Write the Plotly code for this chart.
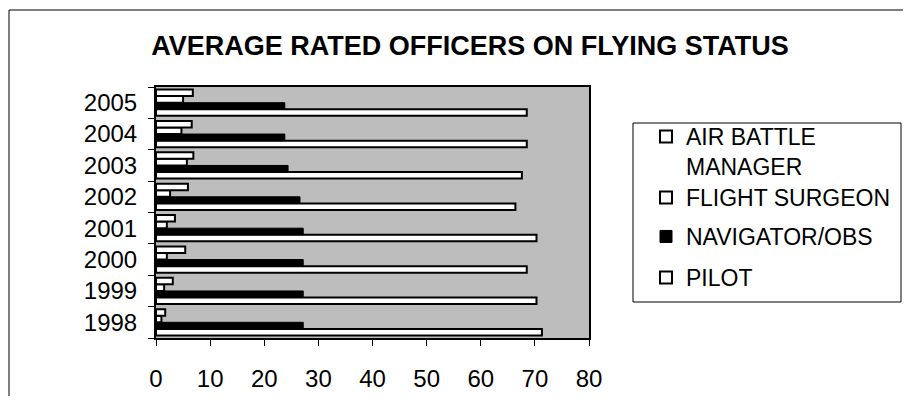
import plotly.graph_objects as go

years = ["1998", "1999", "2000", "2001", "2002", "2003", "2004", "2005"]
pilot = [71.3, 70.3, 68.5, 70.3, 66.4, 67.6, 68.5, 68.5]
navigator = [27.2, 27.2, 27.2, 27.2, 26.6, 24.4, 23.8, 23.8]
flight_surgeon = [1.0, 1.5, 2.0, 2.0, 2.6, 5.7, 4.7, 5.0]
air_battle_manager = [1.7, 3.1, 5.4, 3.5, 5.9, 6.9, 6.6, 6.8]
x_ticks = [0, 10, 20, 30, 40, 50, 60, 70, 80]

FONT = "Liberation Sans, Arial, sans-serif"

# page offset (body margin) and target positions in screen pixels
OFF = 8
L, R, T, B = 156, 589, 87, 338
W, H = 895, 388  # figure size (fits the 911x404 window with body margin)


def px_x(p):
    return (p - L) / (R - L)


def px_y(p):
    return (B - p) / (B - T)


fig = go.Figure()
series = [
    ("PILOT", pilot, "white", "legend4"),
    ("NAVIGATOR/OBS", navigator, "black", "legend3"),
    ("FLIGHT SURGEON", flight_surgeon, "white", "legend2"),
    ("AIR BATTLE<br>MANAGER", air_battle_manager, "white", "legend"),
]
for name, vals, fill, lg in series:
    fig.add_trace(go.Bar(
        y=years, x=vals, name=name, orientation="h",
        marker=dict(color=fill, line=dict(color="black", width=2 if fill == "white" else 1)),
        legend=lg,
    ))

legend_centers = {"legend": 137, "legend2": 198, "legend3": 237, "legend4": 278}
legend_style = dict(
    xanchor="left", yanchor="top", xref="paper", yref="paper",
    itemwidth=30, valign="top", bgcolor="rgba(0,0,0,0)", borderwidth=0,
    font=dict(family=FONT, size=23, color="black"), itemclick=False,
)
legends = {k: dict(x=px_x(646), y=px_y(c - 22), **legend_style) for k, c in legend_centers.items()}

fig.update_layout(
    width=W, height=H,
    margin=dict(l=L - OFF, r=(W + OFF) - R, t=T - OFF, b=(H + OFF) - B, autoexpand=False),
    paper_bgcolor="white",
    plot_bgcolor="#bdbdbd",
    barmode="group",
    bargap=0.16,
    bargroupgap=0,
    font=dict(family=FONT, color="black", size=22),
    title=dict(
        text="<b>AVERAGE RATED OFFICERS ON FLYING STATUS</b>",
        x=(470 - OFF) / W, xref="container", xanchor="center",
        y=1 - (46 - OFF) / H, yref="container", yanchor="middle",
        font=dict(family=FONT, size=27, color="black"),
    ),
    showlegend=True,
    **legends,
)

fig.update_xaxes(
    range=[0, 80], tickvals=x_ticks, ticktext=[str(v) for v in x_ticks],
    ticks="outside", ticklen=6, tickwidth=1, tickcolor="black",
    showline=True, linecolor="black", linewidth=2, mirror=True,
    showgrid=False, zeroline=False,
    tickfont=dict(family=FONT, size=24, color="black"),
    ticklabelstandoff=12,
)
fig.update_yaxes(
    type="category", categoryorder="array", categoryarray=years,
    ticks="outside", ticklen=6, tickwidth=1, tickcolor="black", tickson="boundaries",
    showline=True, linecolor="black", linewidth=2, mirror=True,
    showgrid=False, zeroline=False,
    tickfont=dict(family=FONT, size=24, color="black"),
    ticklabelstandoff=12,
)

# outer chart frame (top and left edges visible in the window)
fig.add_shape(type="line", xref="paper", yref="paper",
              x0=px_x(9), x1=px_x(W + OFF), y0=px_y(10), y1=px_y(10),
              line=dict(color="black", width=1))
fig.add_shape(type="line", xref="paper", yref="paper",
              x0=px_x(9), x1=px_x(9), y0=px_y(10), y1=px_y(H + OFF),
              line=dict(color="black", width=1))
# legend frame
fig.add_shape(type="rect", xref="paper", yref="paper",
              x0=px_x(633), x1=px_x(W + OFF - 2), y0=px_y(302), y1=px_y(123),
              line=dict(color="black", width=1), fillcolor="white", layer="below")

fig.write_html("out.html")
